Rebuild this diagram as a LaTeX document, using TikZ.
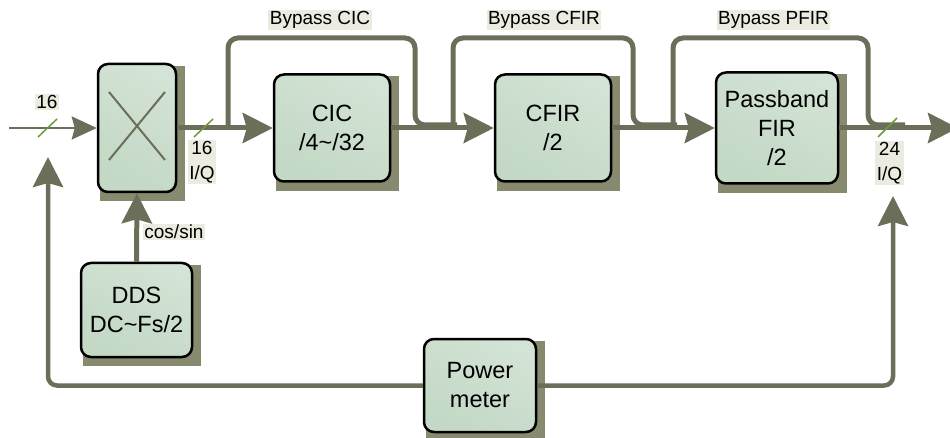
\documentclass[tikz,border=0pt]{standalone}
\usepackage{fontspec}
\setmainfont{Liberation Sans}
\usetikzlibrary{arrows.meta,backgrounds}
\definecolor{linec}{HTML}{6B6E58}
\definecolor{shadc}{HTML}{888A70}
\definecolor{boxc}{HTML}{CADDCB}
\definecolor{boxa}{HTML}{D3E3D5}
\definecolor{boxb}{HTML}{C3D8C5}
\definecolor{labc}{HTML}{EBEBDF}
\definecolor{slashc}{HTML}{6E9A3C}
\begin{document}
\begin{tikzpicture}[x=1pt,y=-1pt,
  blk/.style={draw=black, line width=2.5pt, top color=boxa, bottom color=boxb, shading angle=-30,
    rounded corners=10pt, align=center,
    font=\fontsize{23.5}{29}\selectfont, inner sep=0pt},
  lab/.style={fill=labc, inner sep=1.5pt, align=center, font=\fontsize{19}{25}\selectfont},
  sig/.style={draw=linec, line width=5pt},
  arr/.style={-{Stealth[length=30pt,width=30pt,inset=4pt]}},
  bypass/.style={draw=linec, line width=5pt, rounded corners=10pt},
  fb/.style={draw=linec, line width=4.5pt, rounded corners=9pt},
  slash/.style={draw=slashc, line width=1.5pt}]
\useasboundingbox (0,0) rectangle (950,438);

% blocks
\node[blk, minimum width=78pt, minimum height=128pt] (mix) at (137,128) {};
\node[blk, minimum width=116pt, minimum height=107pt] (cic) at (332,128) {CIC\\/4\textasciitilde/32};
\node[blk, minimum width=116pt, minimum height=107pt] (cfir) at (553,128) {CFIR\\/2};
\node[blk, minimum width=122pt, minimum height=111pt] (pfir) at (777,128) {Passband\\FIR\\/2};
\node[blk, minimum width=111pt, minimum height=94pt] (dds) at (136.5,310) {DDS\\DC\textasciitilde Fs/2};
\node[blk, minimum width=112pt, minimum height=93pt] (pow) at (480,385.5) {Power\\meter};

% shadows
\begin{scope}[on background layer]
\foreach \n in {mix,cic,cfir,pfir,dds,pow}
  \fill[shadc] ([shift={(3,3)}]\n.north west) rectangle ([shift={(8,8)}]\n.south east);
\end{scope}

% mixer cross
\draw[linec, line width=2pt] ([shift={(-28,-36)}]mix.center) -- ([shift={(28,32)}]mix.center);
\draw[linec, line width=2pt] ([shift={(28,-36)}]mix.center) -- ([shift={(-28,32)}]mix.center);

% coordinates
\coordinate (in) at (9,128);
\coordinate (out) at (958,128);
\coordinate (b1a) at (228,128);
\coordinate (b1b) at (457,125);
\coordinate (b2a) at (453,128);
\coordinate (b2b) at (677,125);
\coordinate (b3a) at (673,128);
\coordinate (b3b) at (905,125);
\coordinate (fbL) at (48,157);
\coordinate (fbR) at (893,196);

% main signal path
\draw[linec, line width=2.5pt, -{Stealth[length=25pt,width=23pt,inset=3pt]}] (in) -- (mix.west);
\draw[sig, arr] (mix.east) -- (cic.west);
\draw[sig, arr] (cic.east) -- (cfir.west);
\draw[sig, arr] (cfir.east) -- (pfir.west);
\draw[sig, arr] (pfir.east) -- (out);
\draw[sig, arr] (dds.north) -- (mix.south);

% bypasses
\draw[bypass] (b1a) -- (228,38) -- (415,38) -- (415,125) -- (b1b);
\draw[bypass] (b2a) -- (453,38) -- (633,38) -- (633,125) -- (b2b);
\draw[bypass] (b3a) -- (673,38) -- (868,38) -- (868,125) -- (b3b);

% feedback
\draw[fb, arr] (pow.west) -| (fbL);
\draw[fb, arr] (pow.east) -| (fbR);

% bus width slashes
\draw[slash] (38,137) -- (57,119);
\draw[slash] (194,137) -- (213,119);
\draw[slash] (878,137) -- (897,118);

% labels
\node[lab] (l16a) at (47,102) {16};
\node[lab] (l16b) at (202,162) {16\\I/Q};
\node[lab] (l24) at (889.5,163) {24\\I/Q};
\node[lab] (lcs) at (174,232) {cos/sin};
\node[lab] (lb1) at (320,20) {Bypass CIC};
\node[lab] (lb2) at (544,20) {Bypass CFIR};
\node[lab] (lb3) at (773.5,20) {Bypass PFIR};
\end{tikzpicture}
\end{document}
